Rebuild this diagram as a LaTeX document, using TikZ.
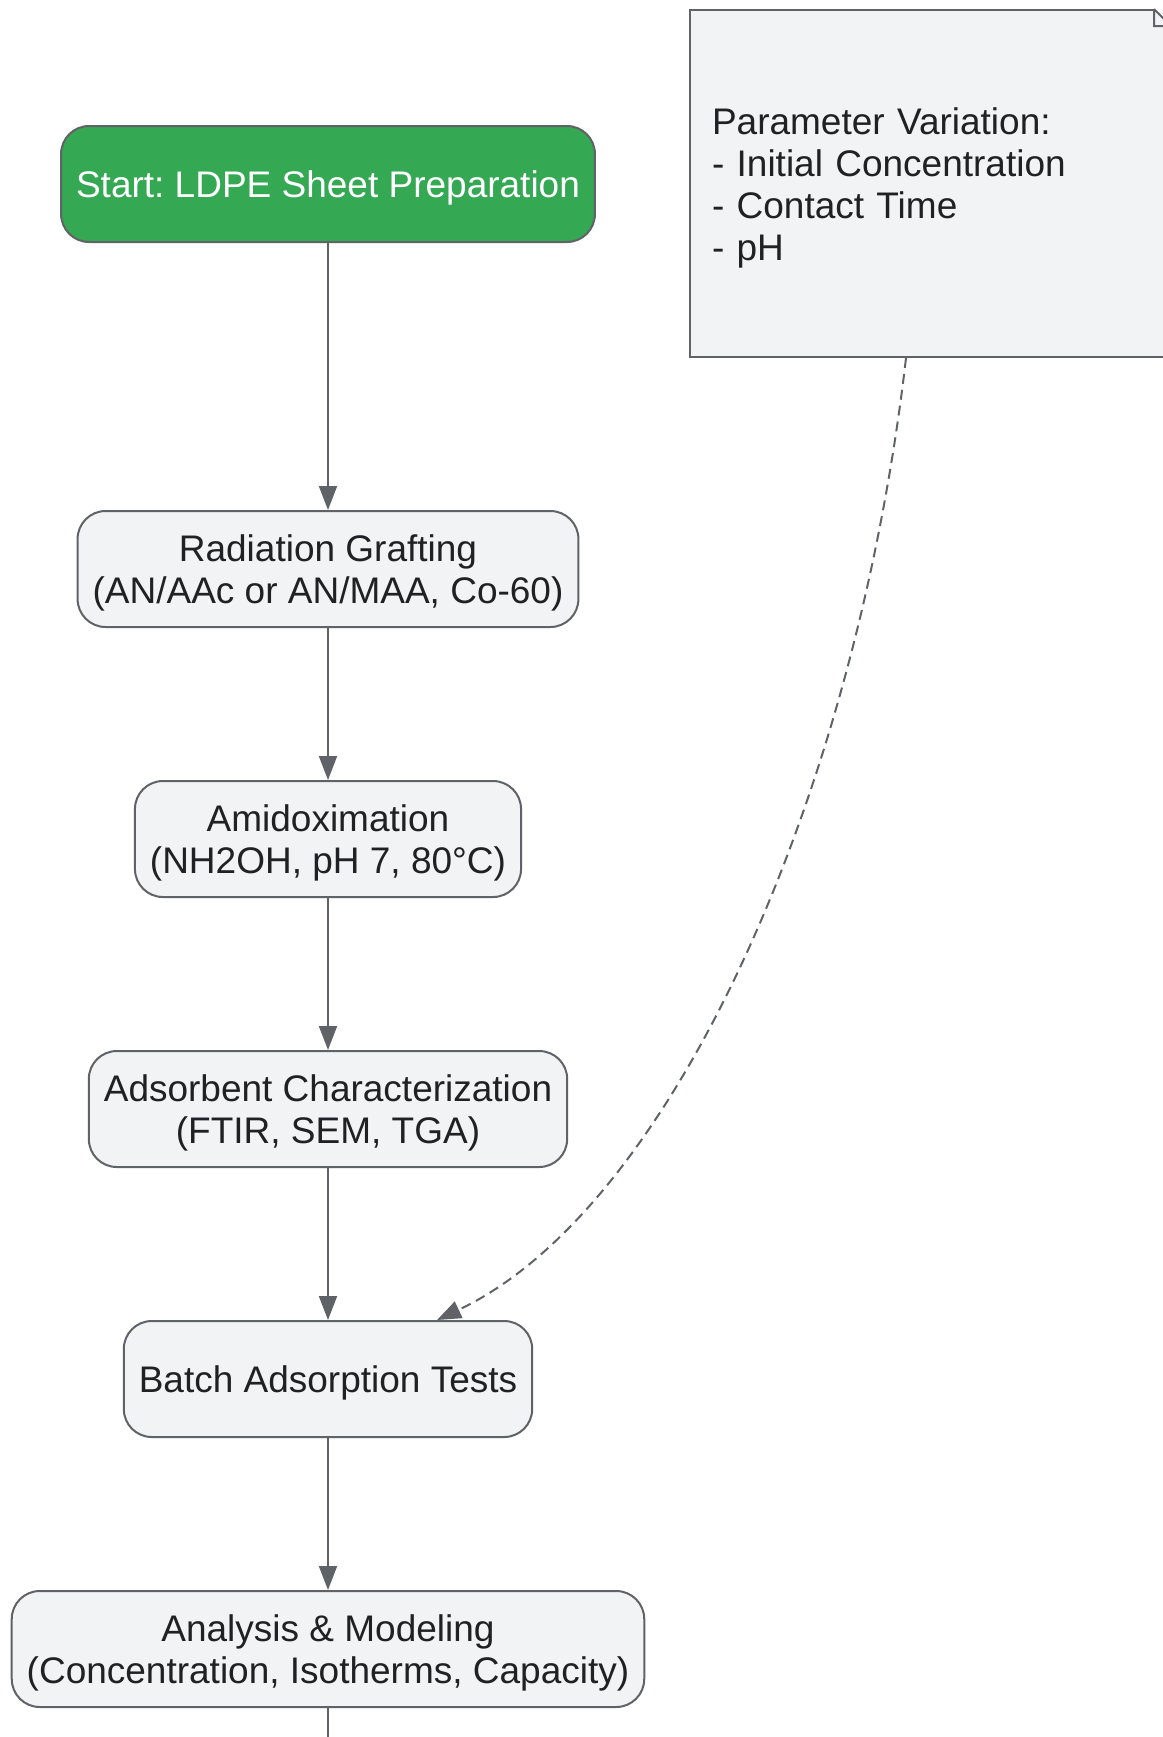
\documentclass[tikz,border=0pt]{standalone}
\usepackage{fontspec}
\setmainfont{Liberation Sans}
\usepackage{xcolor}
\usetikzlibrary{arrows.meta,positioning}
\definecolor{edgegray}{RGB}{95, 99, 104}
\definecolor{boxfill}{RGB}{241, 243, 244}
\definecolor{startgreen}{RGB}{52, 168, 83}
\definecolor{inkdark}{RGB}{32, 33, 36}
\tikzstyle{arrow} = [
    line width=1pt,
    -{Triangle[length=12pt,width=9pt]},
    draw=edgegray
]
\tikzstyle{process} = [
    rectangle,
    rounded corners=14pt,
    minimum height=58pt,
    inner xsep=7.5pt,
    text depth=0pt,
    align=center,
    draw=edgegray,
    line width=1pt,
    fill=boxfill,
    text=inkdark,
    font=\fontsize{18.5}{21}\selectfont\frenchspacing
]
\tikzstyle{startnode} = [
    process,
    fill=startgreen,
    text=white
]
\tikzstyle{notebox} = [
    rectangle,
    minimum width=240pt,
    minimum height=173.5pt,
    inner xsep=11pt,
    text width=218pt,
    text depth=62.5pt,
    align=left,
    draw=edgegray,
    line width=1pt,
    fill=boxfill,
    text=inkdark,
    font=\fontsize{18.5}{21}\selectfont\frenchspacing
]
\begin{document}
\begin{tikzpicture}[x=0.5pt, y=-0.5pt, node distance=76pt]
    \useasboundingbox (0,0) rectangle (1163,1737);
    \clip (0,0) rectangle (1163,1737);
    % main chain
    \node[startnode] (start) at (328,184) {Start: LDPE Sheet Preparation};
    \node[process, below=133.5pt of start] (grafting) {Radiation Grafting\\(AN/AAc or AN/MAA, Co-60)};
    \node[process, below=of grafting] (amidox) {Amidoximation\\(NH2OH, pH 7, 80°C)};
    \node[process, below=of amidox] (charact) {Adsorbent Characterization\\(FTIR, SEM, TGA)};
    \node[process, below=of charact] (batch) {Batch Adsorption Tests};
    \node[process, below=of batch] (analysis) {Analysis \& Modeling\\(Concentration, Isotherms, Capacity)};
    \coordinate (nextstep) at (328,1760);
    % note
    \node[notebox] (note) at (930,183.5) {Parameter Variation:\\- Initial Concentration\\- Contact Time\\- pH};
    \fill[white] ([xshift=-8.5pt]note.north east) -- (note.north east) -- ([yshift=-8.5pt]note.north east) -- cycle;
    \draw[edgegray, line width=1pt] ([xshift=-8.5pt]note.north east) -- ++(0,-8.5pt) -- ([yshift=-8.5pt]note.north east)
        -- ([xshift=-8.5pt]note.north east);
    % connectors
    \draw[arrow] (start) -- (grafting);
    \draw[arrow] (grafting) -- (amidox);
    \draw[arrow] (amidox) -- (charact);
    \draw[arrow] (charact) -- (batch);
    \draw[arrow] (batch) -- (analysis);
    \draw[edgegray, line width=1pt] (analysis.south) -- (nextstep);
    \draw[arrow, dash pattern=on 5pt off 3pt] ([xshift=108.5pt]note.south west)
        .. controls (855,800) and (670,1210) .. ([xshift=54.5pt]batch.north);
\end{tikzpicture}
\end{document}
